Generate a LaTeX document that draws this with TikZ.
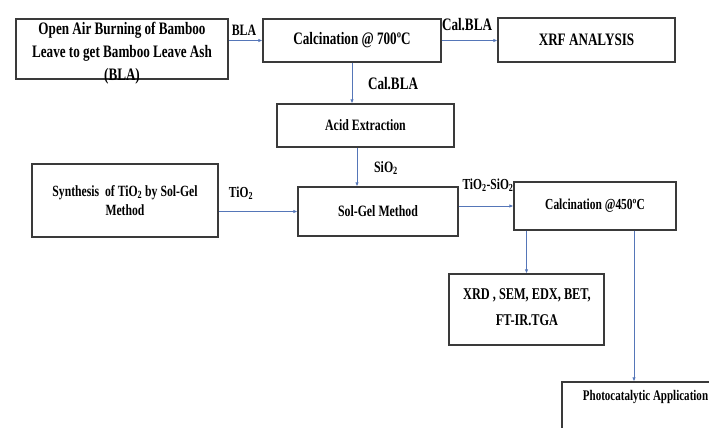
\documentclass[tikz,border=0pt]{standalone}
\usepackage{fontspec}
\setmainfont{Liberation Serif}[FakeStretch=0.75]
\usetikzlibrary{arrows.meta}
\definecolor{arrowblue}{HTML}{5576B8}
\definecolor{boxgray}{HTML}{3A3A3A}
\begin{document}
\begin{tikzpicture}[x=1pt,y=-1pt,
  box/.style={draw=boxgray, line width=1.3pt, fill=white, inner sep=0pt, align=center},
  big/.style={font=\fontsize{17.5}{23}\selectfont\bfseries},
  small/.style={font=\fontsize{15.8}{20}\selectfont\bfseries},
  conn/.style={draw=arrowblue, line width=0.8pt, -{Latex[length=4pt,width=3.5pt]}},
  lbl/.style={inner sep=0pt, align=center}]
\useasboundingbox (0,0) rectangle (709,428);
\clip (0,0) rectangle (709,428);

% boxes
\node[box, minimum width=212, minimum height=60] (burn) at (122,49) {};
\node[lbl, big] (burntxt) at (122,53) {Open Air Burning of Bamboo\\Leave to get Bamboo Leave Ash\\(BLA)};
\node[box, big, minimum width=178, minimum height=43] (calc7) at (352,40.5) {Calcination @ 700ºC};
\node[box, big, minimum width=177, minimum height=44] (xrf) at (586.5,40) {XRF ANALYSIS};
\node[box, small, minimum width=177, minimum height=43] (acid) at (365.5,125.5) {Acid Extraction};
\node[box, font=\fontsize{15.6}{19.5}\selectfont\bfseries, minimum width=186, minimum height=73] (synth) at (125,200.5) {Synthesis\ \ of TiO\textsubscript{2} by Sol-Gel\\Method};
\node[box, small, minimum width=160, minimum height=49] (solgel) at (378,211.5) {Sol-Gel Method};
\node[box, font=\fontsize{15.3}{20}\selectfont\bfseries, minimum width=162, minimum height=48] (calc4) at (595,206) {Calcination @450ºC};
\node[box, minimum width=155, minimum height=71] (xrd) at (526.5,309.5) {};
\node[lbl, font=\fontsize{16.4}{26}\selectfont\bfseries] (xrdtxt) at (527,307) {XRD , SEM, EDX, BET,\\FT-IR.TGA};
\node[box, minimum width=154, minimum height=60] (photo) at (639,412) {};
\node[lbl, font=\fontsize{14.7}{18}\selectfont\bfseries] (phototxt) at (645.5,397) {Photocatalytic Application};

% connectors
\draw[conn] (burn.east |- calc7.west) -- (calc7.west);
\draw[conn] (calc7.east) -- (xrf.west |- calc7.east);
\draw[conn] (calc7.south) -- (acid.north -| calc7.south);
\draw[conn] ([xshift=-8.5pt]acid.south) -- ([xshift=-8.5pt]acid.south |- solgel.north);
\draw[conn] (synth.east |- solgel.west) -- (solgel.west);
\draw[conn] (solgel.east |- calc4.west) -- (calc4.west);
\draw[conn] (calc4.south -| xrd.north) -- (xrd.north);
\draw[conn] ([xshift=-5pt]photo.north |- calc4.south) -- ([xshift=-5pt]photo.north);

% connector labels
\node[lbl, small] (l1) at (244,30) {BLA};
\node[lbl, big] (l2) at (467,25) {Cal.BLA};
\node[lbl, big] (l3) at (393,84) {Cal.BLA};
\node[lbl, small] (l4) at (386,168) {SiO\textsubscript{2}};
\node[lbl, font=\fontsize{15.3}{18}\selectfont\bfseries] (l5) at (241,193) {TiO\textsubscript{2}};
\node[lbl, font=\fontsize{15.3}{18}\selectfont\bfseries] (l6) at (488,185) {TiO\textsubscript{2}-SiO\textsubscript{2}};
\end{tikzpicture}
\end{document}
